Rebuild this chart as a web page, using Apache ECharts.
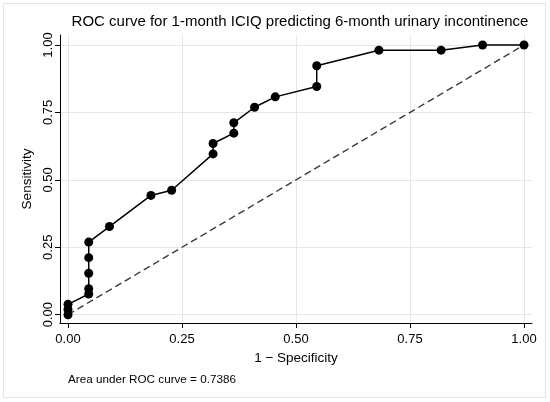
<!DOCTYPE html>
<html>
<head>
<meta charset="utf-8">
<script src="https://cdn.jsdelivr.net/npm/echarts@6/dist/echarts.min.js"></script>
<style>
html,body{margin:0;padding:0;background:#fff;}
#wrap{position:relative;width:550px;height:402px;}
#chart{width:550px;height:402px;}
#frame{position:absolute;left:3px;top:3px;right:4px;bottom:4px;border:1px solid #e6e6e6;pointer-events:none;}
</style>
</head>
<body>
<div id="wrap"><div id="chart"></div><div id="frame"></div></div>
<script>
// ROC points: 1 - specificity (x) and sensitivity (y)
const fpr = [0, 0, 0, 0.04545, 0.04545, 0.04545, 0.04545, 0.04545, 0.09091, 0.18182, 0.22727, 0.31818, 0.31818, 0.36364, 0.36364, 0.40909, 0.45455, 0.54545, 0.54545, 0.68182, 0.81818, 0.90909, 1];
const tpr = [0, 0.01923, 0.03846, 0.07692, 0.09615, 0.15385, 0.21154, 0.26923, 0.32692, 0.44231, 0.46154, 0.59615, 0.63462, 0.67308, 0.71154, 0.76923, 0.80769, 0.84615, 0.92308, 0.98077, 0.98077, 1, 1];
const refLine = [[0, 0], [1, 1]];
const tickValues = [0, 0.25, 0.5, 0.75, 1];
const titleText = 'ROC curve for 1-month ICIQ predicting 6-month urinary incontinence';
const xTitle = '1 \u2212 Specificity';
const yTitle = 'Sensitivity';
const note = 'Area under ROC curve = 0.7386';

const FONT = '"Liberation Sans", Arial, sans-serif';
const chart = echarts.init(document.getElementById('chart'), null, {renderer: 'canvas'});
const fmt = v => v.toFixed(2);
chart.setOption({
  animation: false,
  backgroundColor: '#ffffff',
  title: [{
    text: titleText, left: 295, top: 9, textAlign: 'center',
    textStyle: {fontFamily: FONT, fontSize: 15, fontWeight: 'normal', color: '#000'}
  }, {
    text: note, left: 63, top: 369,
    textStyle: {fontFamily: FONT, fontSize: 11.7, fontWeight: 'normal', color: '#000'}
  }],
  grid: {left: 60, right: 18, top: 35, bottom: 79, containLabel: false},
  xAxis: {
    type: 'value', min: -0.01754, max: 1.01754,
    axisLine: {show: true, onZero: false, lineStyle: {color: '#000', width: 1}},
    axisTick: {show: true, length: 5, customValues: tickValues, lineStyle: {color: '#000'}},
    axisLabel: {customValues: tickValues, formatter: fmt, margin: 10, fontFamily: FONT, fontSize: 13, color: '#000'},
    splitLine: {show: true, lineStyle: {color: '#e6e6e6', width: 1}},
    name: xTitle, nameLocation: 'middle', nameGap: 28,
    nameTextStyle: {fontFamily: FONT, fontSize: 13.5, color: '#000'}
  },
  yAxis: {
    type: 'value', min: -0.0307, max: 1.037,
    axisLine: {show: true, onZero: false, lineStyle: {color: '#000', width: 1}},
    axisTick: {show: true, length: 5, customValues: tickValues, lineStyle: {color: '#000'}},
    axisLabel: {customValues: tickValues, formatter: fmt, rotate: 90, margin: 5, fontFamily: FONT, fontSize: 13, color: '#000'},
    splitLine: {show: true, lineStyle: {color: '#e6e6e6', width: 1}},
    name: yTitle, nameLocation: 'middle', nameGap: 26, nameRotate: 90,
    nameTextStyle: {fontFamily: FONT, fontSize: 13.5, color: '#000'}
  },
  series: [{
    type: 'line',
    data: refLine,
    symbol: 'none',
    lineStyle: {color: '#3a3a3a', width: 1.4, type: [7, 4]},
    z: 2
  }, {
    type: 'line',
    data: fpr.map((x, i) => [x, tpr[i]]),
    symbol: 'circle', symbolSize: 9, showSymbol: true,
    itemStyle: {color: '#000'},
    lineStyle: {color: '#000', width: 1.5},
    z: 3
  }]
});
</script>
</body>
</html>
